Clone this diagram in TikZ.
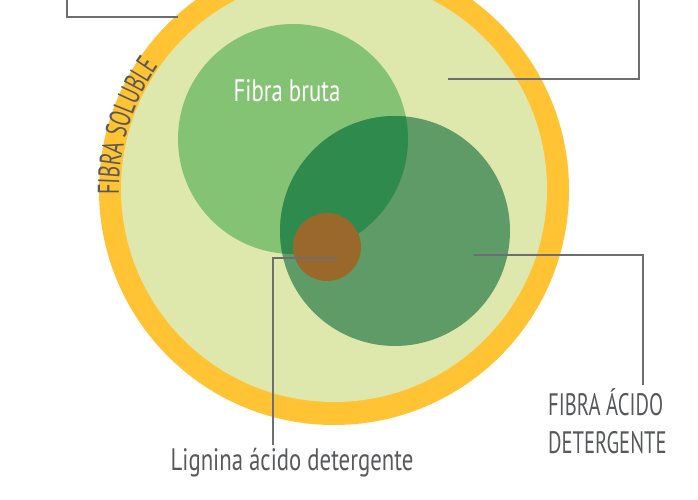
\documentclass[tikz,border=0pt]{standalone}
\usepackage{fontspec}
\setmainfont{PT Sans}[FakeStretch=0.735]
\newfontfamily\capsfont{PT Sans}[FakeStretch=0.665]
\usetikzlibrary{decorations.text}
\definecolor{ringyellow}{HTML}{FFC333}
\definecolor{solublegreen}{HTML}{DEE8AD}
\definecolor{brutagreen}{HTML}{84C374}
\definecolor{fadgreen}{HTML}{5F9B66}
\definecolor{overlapgreen}{HTML}{2E8B4D}
\definecolor{ligbrown}{HTML}{9B682C}
\definecolor{textgray}{HTML}{58595B}
\definecolor{linegray}{HTML}{6D6E71}
\tikzset{
  disc/.style={circle, inner sep=0pt, minimum size=#1},
  callout/.style={draw=linegray, line width=1.8pt},
  tagtext/.style={inner sep=0pt, text=textgray, font=\fontsize{31}{38}\selectfont}
}

\begin{document}
\begin{tikzpicture}[x=1pt, y=1pt]
	\useasboundingbox (0,0) rectangle (698,500);
	% rings
	\node[disc=470pt, fill=ringyellow] (ring) at (334,310) {};
	\node[disc=426pt, fill=solublegreen] (soluble) at (334,311) {};
	\node[disc=230pt, fill=brutagreen] (bruta) at (293,361) {};
	\node[disc=230pt, fill=fadgreen] (fad) at (395,269) {};
	\begin{scope}
		\clip (bruta.center) circle (115);
		\fill[overlapgreen] (fad.center) circle (115);
	\end{scope}
	\node[disc=68pt, fill=ligbrown] (lig) at (327,253) {};
	% texts
	\node[tagtext, text=white, anchor=base] (brutatext) at (287,398) {Fibra bruta};
	\node[tagtext, anchor=base] (ligtext) at (292,29) {Lignina ácido detergente};
	\node[tagtext, font=\capsfont\fontsize{31}{38}\selectfont, anchor=north west, align=left] (fadtext) at (548,112) {FIBRA ÁCIDO\\DETERGENTE};
	\path[decorate, decoration={text along path, text align=center,
		text={|\capsfont\fontsize{30}{30}\selectfont\color{textgray}|FIBRA SOLUBLE}}]
		(ring.center) ++(200:215) arc[start angle=200, end angle=126, radius=215];
	% callouts
	\coordinate (leftend) at (67,500);
	\coordinate (lefttip) at (178,483);
	\coordinate (rightend) at (639,500);
	\coordinate (righttip) at (448,421);
	\coordinate (fadtip) at (474,245);
	\coordinate (fadfoot) at (643,115);
	\coordinate (ligtip) at (337,242);
	\coordinate (ligfoot) at (273,55);
	\draw[callout] (leftend) |- (lefttip);
	\draw[callout] (righttip) -| (rightend);
	\draw[callout] (fadtip) -| (fadfoot);
	\draw[callout] (ligtip) -| (ligfoot);
\end{tikzpicture}
\end{document}
